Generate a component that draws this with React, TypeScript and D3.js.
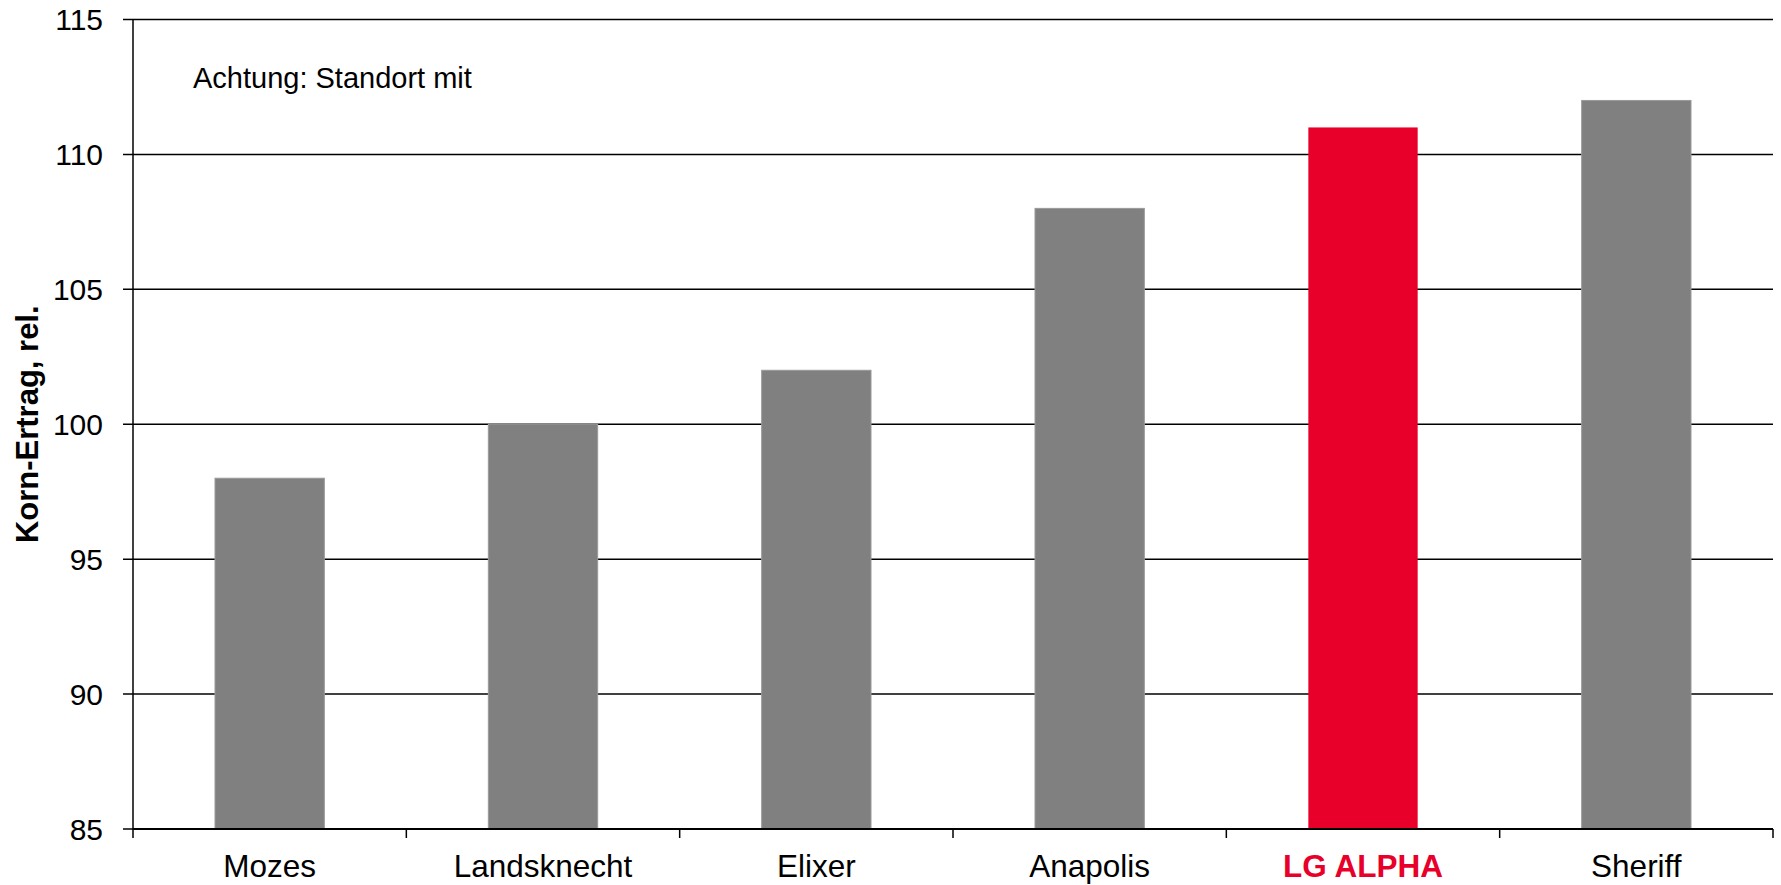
import React from "react";
import * as d3 from "d3";

const categories = ["Mozes", "Landsknecht", "Elixer", "Anapolis", "LG ALPHA", "Sheriff"];
const values = [98, 100, 102, 108, 111, 112];
const highlight = ["LG ALPHA"];
const yTicks = [85, 90, 95, 100, 105, 110, 115];
const yTitle = "Korn-Ertrag, rel.";
const note = "Achtung: Standort mit";

const W = 1781;
const H = 885;
const left = 133;
const right = 1773;
const top = 19.5;
const bottom = 829;

export default function App() {
  const x = d3.scaleBand<string>().domain(categories).range([left, right]).padding(0);
  const y = d3.scaleLinear().domain([85, 115]).range([bottom, top]);
  const barW = x.bandwidth() * 0.4;
  const font = "'Liberation Sans', Arial, Helvetica, sans-serif";
  const boundaries = categories.map((c) => x(c) as number).concat([right]);

  return (
    <svg
      width={W}
      height={H}
      style={{ position: "absolute", left: 0, top: 0, background: "#fff" }}
      fontFamily={font}
    >
      {/* gridlines */}
      {yTicks.map((t) => (
        <line
          key={"g" + t}
          x1={left - 10}
          x2={right}
          y1={y(t)}
          y2={y(t)}
          stroke="#000"
          strokeWidth={1.5}
        />
      ))}
      {/* bars */}
      {categories.map((c, i) => {
        const cx = (x(c) as number) + x.bandwidth() / 2;
        const isHi = highlight.includes(c);
        return (
          <rect
            key={c}
            x={cx - barW / 2}
            y={y(values[i])}
            width={barW}
            height={y(85) - y(values[i])}
            fill={isHi ? "#E8002A" : "#808080"}
            stroke={isHi ? "none" : "#9a9a9a"}
            strokeWidth={isHi ? 0 : 1}
          />
        );
      })}
      {/* y axis */}
      <line x1={left} x2={left} y1={top} y2={bottom} stroke="#000" strokeWidth={1.5} />
      {/* x axis */}
      <line x1={left} x2={right} y1={bottom} y2={bottom} stroke="#000" strokeWidth={2} />
      {boundaries.map((b, i) => (
        <line key={"t" + i} x1={b} x2={b} y1={bottom} y2={bottom + 9} stroke="#000" strokeWidth={1.5} />
      ))}
      {/* y tick labels */}
      {yTicks.map((t) => (
        <text
          key={"l" + t}
          x={103}
          y={y(t)}
          dy="0.36em"
          textAnchor="end"
          fontSize={30}
          fill="#000"
        >
          {t}
        </text>
      ))}
      {/* x labels */}
      {categories.map((c) => {
        const cx = (x(c) as number) + x.bandwidth() / 2;
        const isHi = highlight.includes(c);
        return (
          <text
            key={"x" + c}
            x={cx}
            y={877}
            textAnchor="middle"
            fontSize={31.5}
            fontWeight={isHi ? "bold" : "normal"}
            fill={isHi ? "#E8002A" : "#000"}
          >
            {c}
          </text>
        );
      })}
      {/* y title */}
      <text
        transform={`translate(38, ${(top + bottom) / 2}) rotate(-90)`}
        textAnchor="middle"
        fontSize={31}
        fontWeight="bold"
        fill="#000"
      >
        {yTitle}
      </text>
      {/* note */}
      <text x={193} y={88} fontSize={29} fill="#000">
        {note}
      </text>
    </svg>
  );
}
